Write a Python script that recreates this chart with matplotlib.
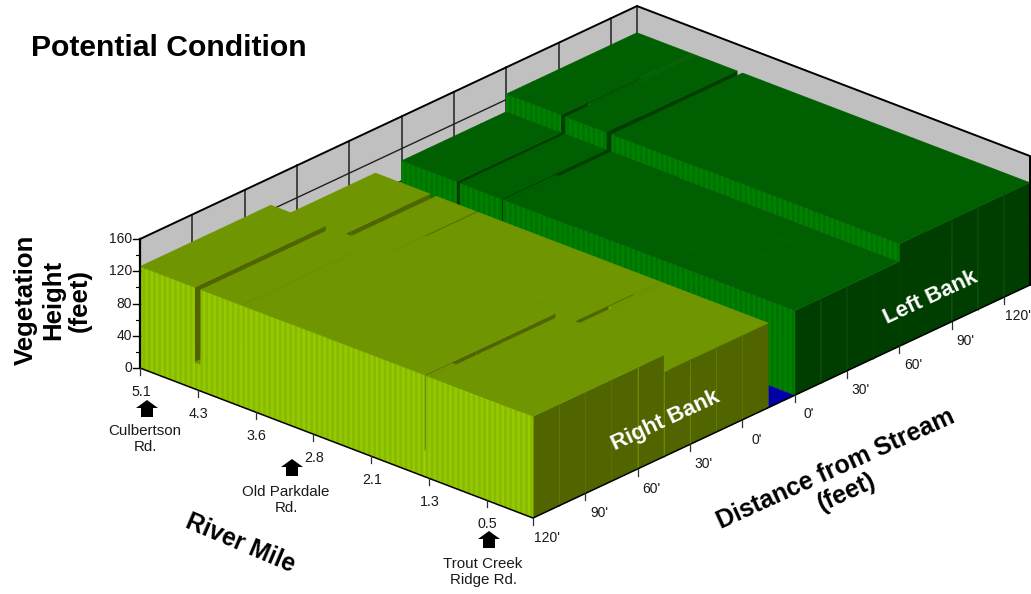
import matplotlib
matplotlib.use("Agg")
import matplotlib.pyplot as plt
from matplotlib.collections import PolyCollection
from matplotlib.patches import Polygon

plt.rcParams['font.family'] = ['Liberation Sans', 'DejaVu Sans']

# ---------- data ----------
MILE_START = 5.1
MILE_END = 0.0
river_mile_ticks = [5.1, 4.3, 3.6, 2.8, 2.1, 1.3, 0.5]
river_mile_tick_pos = [5.1, 4.35, 3.6, 2.85, 2.1, 1.35, 0.6]
height_ticks = [0, 40, 80, 120, 160]
height_minor = [20, 60, 100, 140]
distance_ticks = [0, 30, 60, 90, 120]

right_edges = [-15, 45, 120]      # distance from stream (ft)
right_heights = [105, 126]        # vegetation height (ft)
left_edges = [0, 60, 135]
left_heights = [105, 127]

# gaps in the canopy: mile from, mile to, distance from, distance to, height
right_gaps = [
    (4.39, 4.31, -15, 120, 33),
    (3.79, 3.77, -15, 15, 33),
    (1.41, 1.39, 105, 120, 33),
    (1.41, 1.34, 45, 105, 33),
    (1.41, 1.35, 15, 45, 33),
    (1.41, 1.39, 0, 15, 33),
]
left_gaps = [
    (4.39, 4.34, 0, 60, 33),
    (4.39, 4.33, 60, 75, 33),
    (4.39, 4.37, 75, 105, 33),
    (3.80, 3.78, 0, 30, 33),
    (3.80, 3.74, 30, 60, 33),
    (3.80, 3.73, 60, 135, 33),
]
landmarks = [("Culbertson\nRd.", 145, 439, 147, 409),
             ("Old Parkdale\nRd.", 286, 500, 292, 468),
             ("Trout Creek\nRidge Rd.", 483, 572, 489, 540)]

# ---------- projection ----------
OX, OY = 140.0, 368.0
UX, UY = 393.0, 150.0
VX, VY = 497.0, -233.0
CROSS_FT = 285.0
ZS = 0.806
RIGHT_C0 = 120.0   # cross position of right-bank 0'
LEFT_C0 = 150.0    # cross position of left-bank 0'


def uu(m):
    return (MILE_START - m) / (MILE_START - MILE_END)


def proj(u, c, z):
    return (OX + UX * u + VX * c / CROSS_FT,
            OY + UY * u + VY * c / CROSS_FT - ZS * z)


fig = plt.figure(figsize=(10.31, 5.94), dpi=100)
ax = fig.add_axes([0, 0, 1, 1])
ax.set_xlim(0, 1031)
ax.set_ylim(594, 0)
ax.axis('off')

polys, faces, edges, widths = [], [], [], []


def add(verts, face, edge=None, lw=0.3):
    polys.append(verts)
    faces.append(face if face is not None else 'none')
    edges.append(edge if edge is not None else face)
    widths.append(lw)


def quad_u(u, c0, c1, z0, z1):
    return [proj(u, c0, z0), proj(u, c1, z0), proj(u, c1, z1), proj(u, c0, z1)]


def quad_c(c, u0, u1, z0, z1):
    return [proj(u0, c, z0), proj(u1, c, z0), proj(u1, c, z1), proj(u0, c, z1)]


def draw_bank(edges_d, hts, gaps, d_to_c, top, stripe, dark, rule, topline):
    cuts = set(d_to_c(d) for d in edges_d)
    for g in gaps:
        cuts.add(d_to_c(g[2]))
        cuts.add(d_to_c(g[3]))
    lo, hi = min(cuts), max(cuts)
    c = 0.0
    while c <= CROSS_FT:
        if lo < c < hi:
            cuts.add(c)
        c += 15.0
    cs = sorted(cuts)
    ms = {MILE_START, MILE_END}
    for g in gaps:
        ms.add(g[0])
        ms.add(g[1])
    ms = sorted(ms, reverse=True)

    def height(mm, cc):
        for g in gaps:
            ca, cb = sorted((d_to_c(g[2]), d_to_c(g[3])))
            if g[1] < mm < g[0] and ca < cc < cb:
                return g[4]
        for k in range(len(hts)):
            ca, cb = sorted((d_to_c(edges_d[k]), d_to_c(edges_d[k + 1])))
            if ca < cc < cb:
                return hts[k]
        return 0

    for j in range(len(cs) - 2, -1, -1):
        c0, c1 = cs[j], cs[j + 1]
        cm = (c0 + c1) / 2
        for i in range(len(ms) - 1):
            m0, m1 = ms[i], ms[i + 1]
            mm = (m0 + m1) / 2
            u0, u1 = uu(m0), uu(m1)
            h = height(mm, cm)
            # face toward the viewer's right (river-downstream side)
            hr = height((ms[i + 1] + ms[i + 2]) / 2, cm) if i + 2 < len(ms) else 0
            if h > hr:
                add(quad_u(u1, c0, c1, hr, h), dark)
                if i + 2 == len(ms) and abs(c0 / 15 - round(c0 / 15)) < 1e-6:
                    add([proj(u1, c0, 0), proj(u1, c0, h)], None, rule, 0.7)
            # striped face toward the viewer's left
            hn = height(mm, cs[j - 1] / 2 + c0 / 2) if j > 0 else 0
            if h > hn:
                add(quad_c(c0, u0, u1, hn, h), stripe[0], None, 0.3)
                n0 = int(u0 * NSTRIPE)
                n1 = int(u1 * NSTRIPE) + 1
                for n in range(n0, n1):
                    if n % 2 == 0:
                        continue
                    a = max(u0, n / NSTRIPE)
                    b = min(u1, (n + 1) / NSTRIPE)
                    if b > a:
                        add(quad_c(c0, a, b, hn, h), stripe[1], None, 0.05)
            add([proj(u0, c0, h), proj(u1, c0, h), proj(u1, c1, h), proj(u0, c1, h)], top)
            if h > 60 and hn >= h and abs(c0 / 15 - round(c0 / 15)) < 1e-6:
                add([proj(u0, c0, h), proj(u1, c0, h)], None, topline, 0.5)


NSTRIPE = 150

# left bank first, then stream bed, then right bank
draw_bank(left_edges, left_heights, left_gaps, lambda d: LEFT_C0 + d,
          '#005f00', ('#008200', '#007400'), '#003d00', '#004d00', '#006200')
add([proj(0, RIGHT_C0 + 15, 0), proj(1, RIGHT_C0 + 15, 0),
     proj(1, LEFT_C0, 0), proj(0, LEFT_C0, 0)], '#0000a8')
draw_bank(right_edges, right_heights, right_gaps, lambda d: RIGHT_C0 - d,
          '#6f9500', ('#96c900', '#88ba00'), '#506400', '#6f8a00', '#739a00')

# ---------- walls ----------
GREY = '#c0c0c0'
ax.add_patch(Polygon(quad_c(CROSS_FT, 0, 1, 0, 160), closed=True, fc=GREY, ec='none', zorder=1))
ax.add_patch(Polygon(quad_u(0, 0, CROSS_FT, 0, 160), closed=True, fc=GREY, ec='none', zorder=1))
for cc in range(30, 286, 30):
    ax.plot([proj(0, cc, 0)[0]] * 2, [proj(0, cc, 0)[1], proj(0, cc, 160)[1]],
            color='#202020', lw=1.1, zorder=1.2)
a, b = proj(0, CROSS_FT, 0), proj(0, CROSS_FT, 160)
ax.plot([a[0], b[0]], [a[1], b[1]], color='#202020', lw=1.1, zorder=1.2)
for zv in height_ticks[1:-1]:
    a, b = proj(0, 0, zv), proj(0, CROSS_FT, zv)
    ax.plot([a[0], b[0]], [a[1], b[1]], color='#202020', lw=1.0, zorder=1.2)

pc = PolyCollection(polys, facecolors=faces, edgecolors=edges, linewidths=widths,
                    closed=True, zorder=2)
ax.add_collection(pc)

# frame top
pts = [proj(0, 0, 160), proj(0, CROSS_FT, 160), proj(1, CROSS_FT, 160), proj(1, CROSS_FT, 0)]
ax.plot([p[0] for p in pts], [p[1] for p in pts], color='black', lw=1.4, zorder=3,
        solid_joinstyle='miter')
# height axis at left
a, b = proj(0, 0, 0), proj(0, 0, 160)
ax.plot([a[0], b[0]], [a[1], b[1]], color='black', lw=1.6, zorder=3)
TXT = '#1a1a1a'
for zv in height_ticks:
    p = proj(0, 0, zv)
    ax.plot([p[0] - 7, p[0]], [p[1], p[1]], color='black', lw=1.0, zorder=3)
    ax.text(p[0] - 8, p[1], str(zv), ha='right', va='center', fontsize=10, color=TXT)
for zv in height_minor:
    p = proj(0, 0, zv)
    ax.plot([p[0] - 4, p[0]], [p[1], p[1]], color='black', lw=0.8, zorder=3)
for zv in height_ticks[1:-1]:
    p = proj(1, CROSS_FT, zv)
    ax.plot([p[0], p[0] + 3], [p[1], p[1]], color='black', lw=0.8, zorder=3)

# floor edges
a, b, c_ = proj(0, 0, 0), proj(1, 0, 0), proj(1, CROSS_FT, 0)
ax.plot([a[0], b[0], c_[0]], [a[1], b[1], c_[1]], color='black', lw=1.1, zorder=3)

# river mile ticks
for lab, pos in zip(river_mile_ticks, river_mile_tick_pos):
    p = proj(uu(pos), 0, 0)
    ax.plot([p[0], p[0]], [p[1], p[1] + 7], color='#303030', lw=0.9, zorder=3)
    ax.text(p[0] + 1, p[1] + 24, str(lab), ha='center', va='center', fontsize=10.3, color=TXT)
# distance ticks, both banks
for d in distance_ticks:
    p = proj(1, RIGHT_C0 - d, 0)
    ax.plot([p[0], p[0]], [p[1], p[1] + 7], color='#303030', lw=0.9, zorder=3)
    ax.text(p[0] + 14, p[1] + 20, f"{d}'", ha='center', va='center', fontsize=10, color=TXT)
    p = proj(1, LEFT_C0 + d, 0)
    ax.plot([p[0], p[0]], [p[1], p[1] + 7], color='#303030', lw=0.9, zorder=3)
    ax.text(p[0] + 14, p[1] + 19, f"{d}'", ha='center', va='center', fontsize=10, color=TXT)

# landmarks with arrows
for lab, tx, ty, ax_, ay_ in landmarks:
    ax.text(tx, ty, lab, ha='center', va='center', fontsize=10.9, color=TXT, linespacing=1.2)
    ax.add_patch(Polygon([(ax_, ay_ - 9), (ax_ + 11, ay_ - 1), (ax_ + 6, ay_ - 1),
                          (ax_ + 6, ay_ + 8), (ax_ - 6, ay_ + 8), (ax_ - 6, ay_ - 1),
                          (ax_ - 11, ay_ - 1)], closed=True, fc='black', ec='none', zorder=4))

# titles
ax.text(31, 47.5, 'Potential Condition', fontsize=21.7, fontweight='bold', va='center', ha='left', color='black')
ax.text(53, 300, 'Vegetation\nHeight\n(feet)', fontsize=18.5, fontweight='bold', rotation=90,
        ha='center', va='center', linespacing=1.15, multialignment='center', color='black')
ax.text(240, 543, 'River Mile', fontsize=17.7, fontweight='bold', rotation=-23,
        ha='center', va='center', rotation_mode='anchor', color='black')
ax.text(841, 481, 'Distance from Stream\n(feet)', fontsize=18, fontweight='bold', rotation=24.5,
        ha='center', va='center', rotation_mode='anchor', linespacing=1.1, multialignment='center', color='black')
ax.text(666, 421, 'Right Bank', fontsize=16, fontweight='bold', rotation=25, color='white',
        ha='center', va='center', rotation_mode='anchor', zorder=5)
ax.text(931, 298, 'Left Bank', fontsize=16, fontweight='bold', rotation=25, color='white',
        ha='center', va='center', rotation_mode='anchor', zorder=5)

fig.savefig('out.png', dpi=100)
